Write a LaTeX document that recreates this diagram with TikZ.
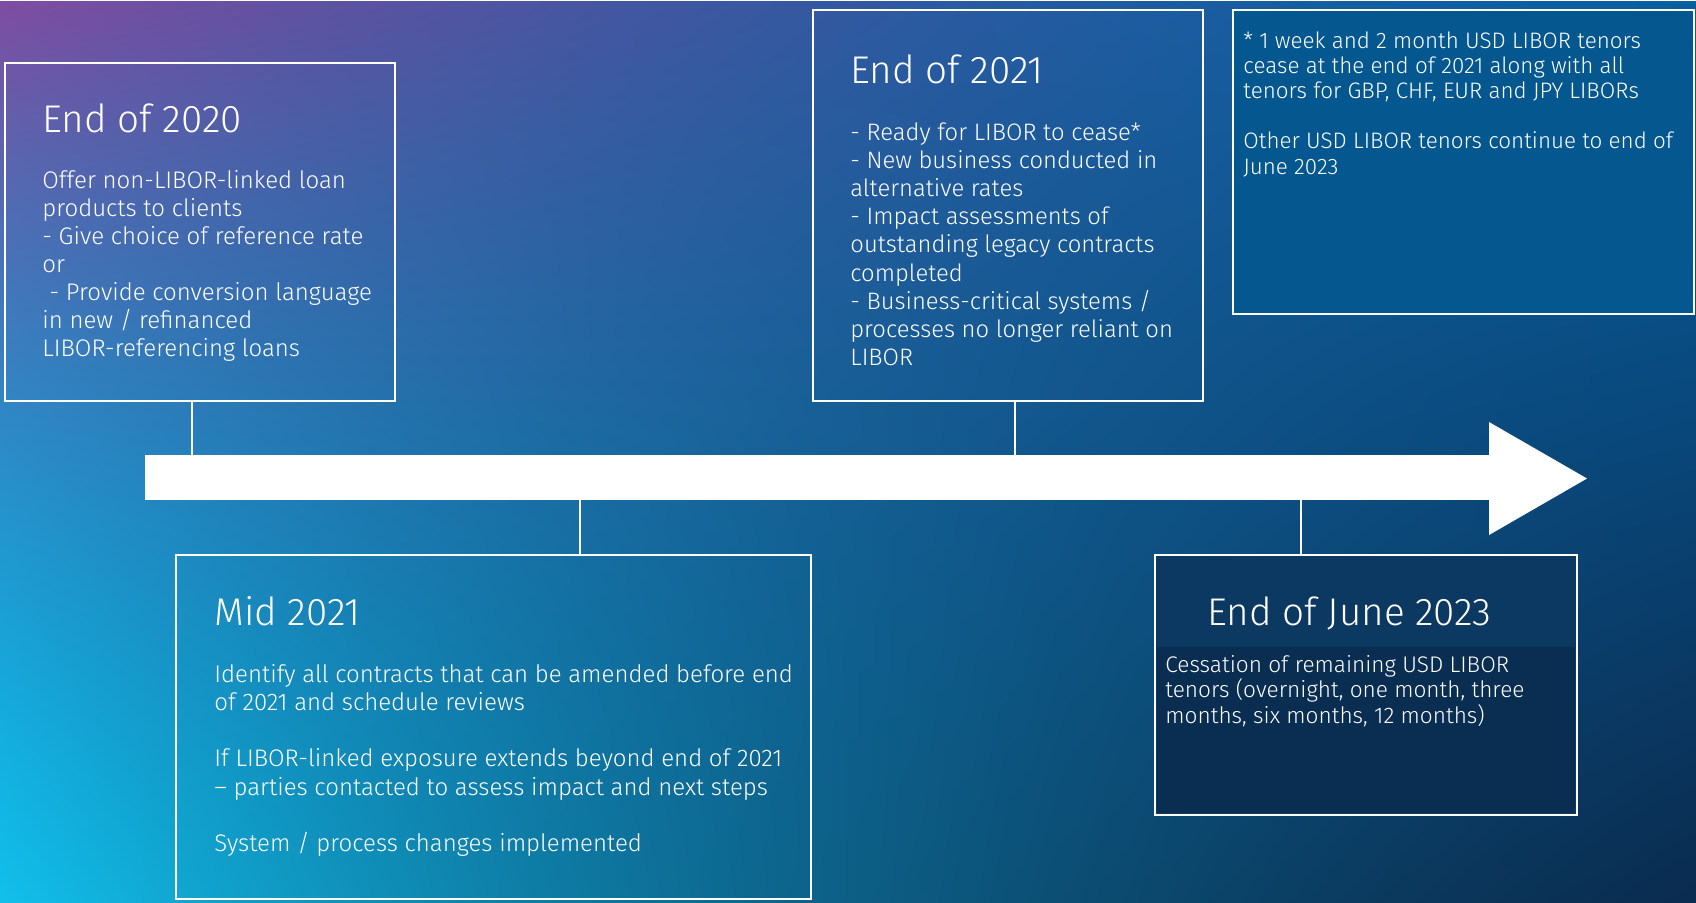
\documentclass[tikz,border=0pt]{standalone}
\usepackage{fontspec}
\setmainfont{Fira Sans}[UprightFont=* Light]
\usetikzlibrary{calc}
\definecolor{notefill}{HTML}{05588F}
\definecolor{lastfill}{HTML}{0C3961}
\definecolor{lastfillb}{HTML}{0A2D52}
\pgfdeclarefunctionalshading{bgshade}{\pgfpointorigin}{\pgfpoint{848pt}{451pt}}{}{
 449.44 div exch 845.07 div exch
 2 copy exch 1 exch sub dup sqrt mul exch dup mul mul
 3 -1 roll dup 0.6 mul 1.6 exch sub mul 3 1 roll
 3 copy
 0.454 mul 3 1 roll 2 copy mul 0.014 mul 3 1 roll -0.024 mul exch -0.03 mul add add 0.07 add add
 4 1 roll
 3 copy
 -0.096 mul 3 1 roll 2 copy mul 0.559 mul 3 1 roll -0.354 mul exch -0.58 mul add add 0.75 add add
 4 1 roll
 -0.043 mul 3 1 roll 2 copy mul 0.567 mul 3 1 roll -0.247 mul exch -0.61 mul add add 0.92 add add
}
\newcommand\bodytxt[3]{\parbox[t]{340pt}{\raggedright\fontsize{#1}{#2}\selectfont #3}}
\tikzset{
 box/.style={draw=white, line width=1pt, inner sep=0, outer sep=0, rectangle},
 ttl/.style={anchor=base west, inner sep=0, text=white, font=\fontsize{19.3}{23}\selectfont},
 body/.style={anchor=base west, inner sep=0, text=white},
 conn/.style={draw=white, line width=0.9pt},
}
\begin{document}
\begin{tikzpicture}[x=0.5pt,y=-0.5pt]
\useasboundingbox (0,0) rectangle (1696,902);
\node[inner sep=0, outer sep=0, anchor=north west] (bg) at (0,0) {\pgfuseshading{bgshade}};

% arrow
\node[fill=white, inner sep=0, outer sep=0, minimum width=672.5pt, minimum height=22.5pt, anchor=north west] (shaft) at (145,455) {};
\fill[white] (1489,422) -- (1587,478.5) -- (1489,535) -- cycle;

% boxes
\node[box, minimum width=195pt, minimum height=169pt] (b1) at (200,232) {};
\node[box, minimum width=195pt, minimum height=195.5pt] (b2) at (1008,205.5) {};
\node[box, fill=notefill, minimum width=230.5pt, minimum height=152pt] (b3) at (1463.5,162) {};
\node[box, minimum width=317.5pt, minimum height=172pt] (b4) at (493.5,727) {};
\node[box, fill=lastfill, minimum width=211pt, minimum height=130pt] (b5) at (1366,685) {};
\fill[lastfillb] (1157,647) rectangle (1575,813);

% connectors
\coordinate (k1) at (192,0);
\coordinate (k2) at (1015,0);
\coordinate (k4) at (580,0);
\coordinate (k5) at (1301,0);
\draw[conn] (k1 |- b1.south) -- (k1 |- shaft.north);
\draw[conn] (k2 |- b2.south) -- (k2 |- shaft.north);
\draw[conn] (k4 |- shaft.south) -- (k4 |- b4.north);
\draw[conn] (k5 |- shaft.south) -- (k5 |- b5.north);

% texts
\node[ttl] (t1) at (42,132) {End of 2020};
\node[body] (x1) at (42,188) {\bodytxt{12}{14}{Offer non-LIBOR-linked loan\\
products to clients\\
- Give choice of reference rate\\
or\\
\hspace*{0.3em}- Provide conversion language\\
in new / refinanced\\
LIBOR-referencing loans}};

\node[ttl] (t2) at (850,83) {End of 2021};
\node[body] (x2) at (850,140) {\bodytxt{11.9}{14.1}{- Ready for LIBOR to cease*\\
- New business conducted in\\
alternative rates\\
- Impact assessments of\\
outstanding legacy contracts\\
completed\\
- Business-critical systems /\\
processes no longer reliant on\\
LIBOR}};

\node[body] (x3) at (1243,48) {\bodytxt{11.2}{12.6}{* 1 week and 2 month USD LIBOR tenors\\
cease at the end of 2021 along with all\\
tenors for GBP, CHF, EUR and JPY LIBORs\\[12.6pt]
Other USD LIBOR tenors continue to end of\\
June 2023}};

\node[ttl] (t4) at (214,625) {Mid 2021};
\node[body] (x4) at (214,682) {\bodytxt{12}{14.15}{Identify all contracts that can be amended before end\\
of 2021 and schedule reviews\\[14.15pt]
If LIBOR-linked exposure extends beyond end of 2021\\
– parties contacted to assess impact and next steps\\[14.15pt]
System / process changes implemented}};

\node[ttl] (t5) at (1207,625) {End of June 2023};
\node[body] (x5) at (1165,672) {\bodytxt{11.3}{12.75}{Cessation of remaining USD LIBOR\\
tenors (overnight, one month, three\\
months, six months, 12 months)}};
\end{tikzpicture}
\end{document}
